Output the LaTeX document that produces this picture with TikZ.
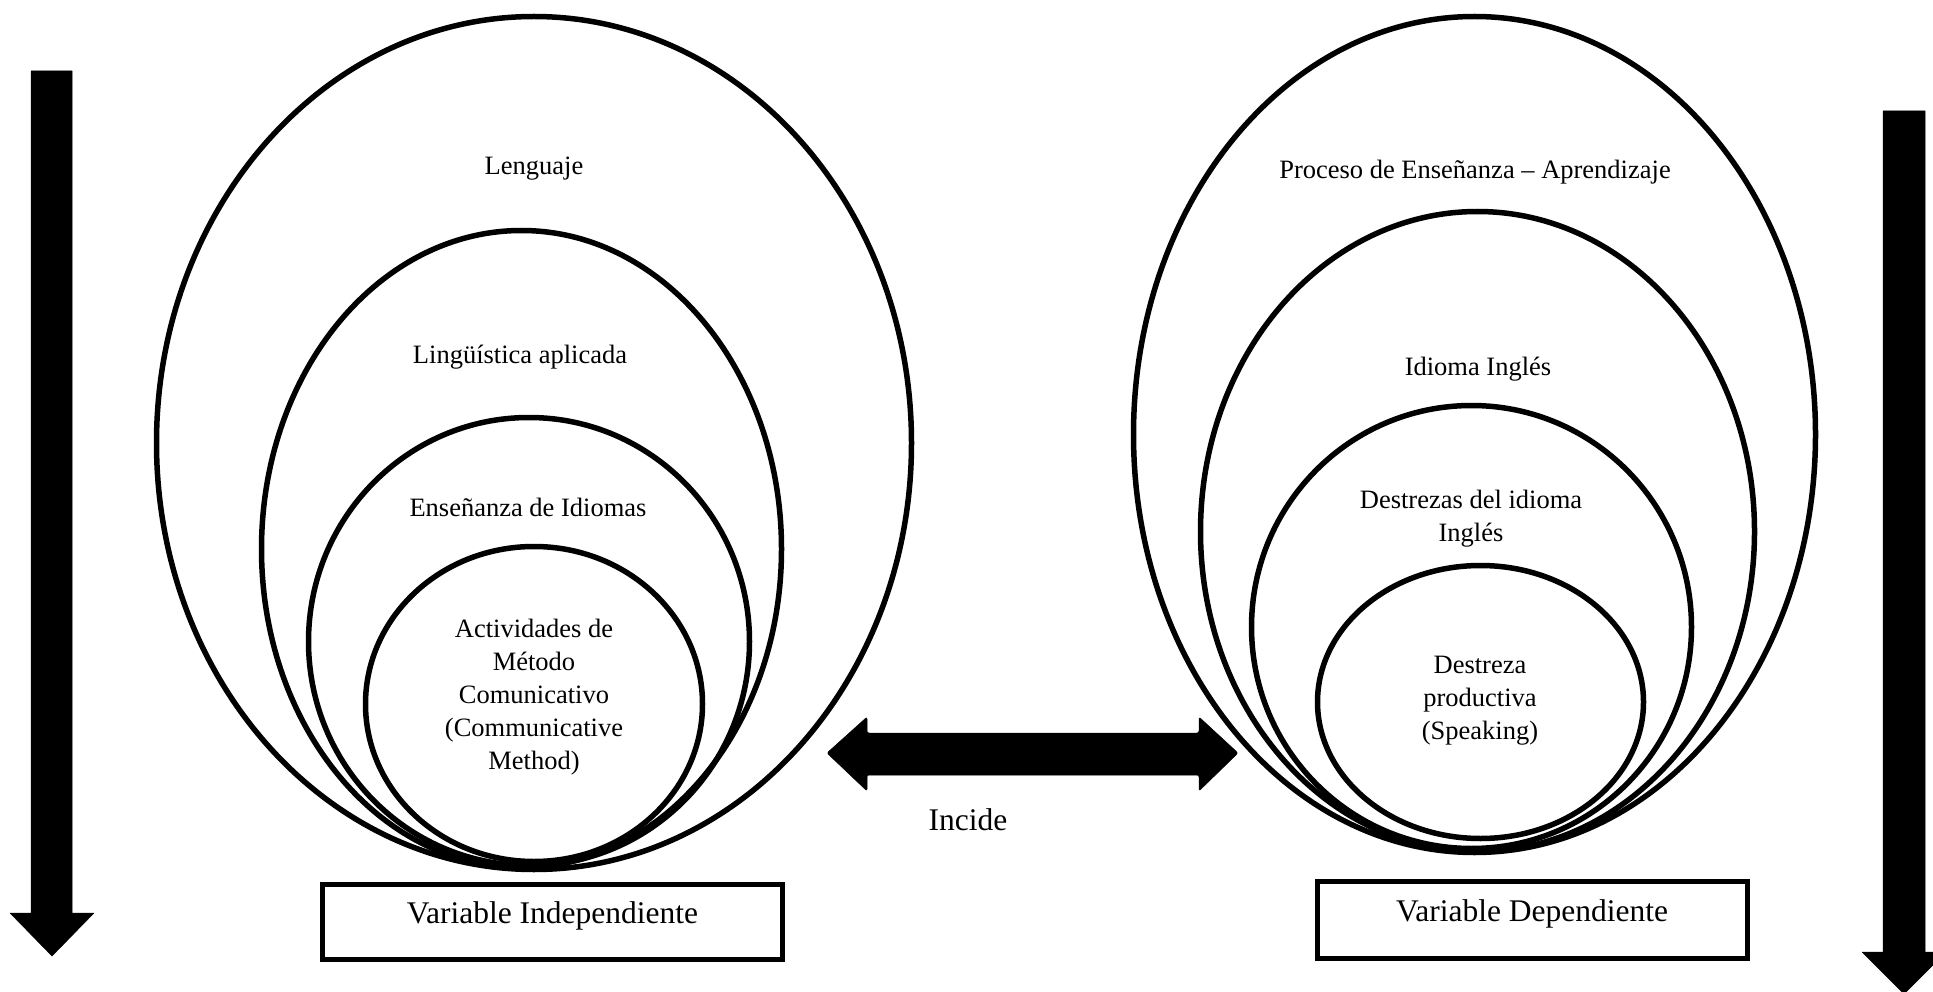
\documentclass[tikz,border=0pt]{standalone}
\usepackage{fontspec}
\setmainfont{Liberation Serif}
\usetikzlibrary{shapes.geometric}
\begin{document}
\begin{tikzpicture}[x=1pt,y=-1pt,
  ring/.style={draw, ellipse, line width=5.5pt, inner sep=0pt, outer sep=0pt},
  lbl/.style={font=\fontsize{26.5}{33}\selectfont, align=center, inner sep=0pt},
  vbox/.style={draw, rectangle, line width=5pt, inner sep=0pt},
  big/.style={font=\fontsize{31.5}{36}\selectfont, inner sep=0pt},
  blk/.style={fill=black, draw=black, line width=0.5pt, line join=round}]
\useasboundingbox (0,0) rectangle (1933,992);

% left group
\node[ring, minimum width=755, minimum height=853] (L1) at (534,443) {};
\node[ring, minimum width=520, minimum height=637] (L2) at (521.5,549) {};
\node[ring, minimum width=441, minimum height=448] (L3) at (529,641.5) {};
\node[ring, minimum width=337, minimum height=315] (L4) at (534,704) {};
\node[lbl, anchor=base] (tL1) at (534,175) {Lenguaje};
\node[lbl, anchor=base] (tL2) at (520,363) {Lingüística aplicada};
\node[lbl, anchor=base] (tL3) at (528,516) {Enseñanza de Idiomas};
\node[lbl] (tL4) at (534,697) {Actividades de\\Método\\Comunicativo\\(Communicative\\Method)};

% right group
\node[ring, minimum width=682, minimum height=836] (R1) at (1474.5,434.5) {};
\node[ring, minimum width=554, minimum height=640] (R2) at (1477.5,531.5) {};
\node[ring, minimum width=440, minimum height=443] (R3) at (1471.5,627) {};
\node[ring, minimum width=326, minimum height=273] (R4) at (1480.5,702) {};
\node[lbl, anchor=base] (tR1) at (1475,179) {Proceso de Enseñanza – Aprendizaje};
\node[lbl, anchor=base] (tR2) at (1478,375) {Idioma Inglés};
\node[lbl] (tR3) at (1471,518.5) {Destrezas del idioma\\Inglés};
\node[lbl] (tR4) at (1480,700.5) {Destreza\\productiva\\(Speaking)};

% variable boxes
\node[vbox, minimum width=460, minimum height=75] (VI) at (552.5,922) {};
\node[big, anchor=base] (tVI) at (552.5,923) {Variable Independiente};
\node[vbox, minimum width=430, minimum height=77] (VD) at (1532.5,920) {};
\node[big, anchor=base] (tVD) at (1532,921) {Variable Dependiente};

% double arrow
\fill[blk, rounded corners=2pt] (827,753) -- (867,717) -- (867,733) -- (1199,733) -- (1199,717)
  -- (1238,753) -- (1199,791) -- (1199,775) -- (867,775) -- (867,791) -- cycle;
\node[big, anchor=base] (inc) at (968,830) {Incide};

% vertical arrows
\fill[blk] (31,71) -- (72,71) -- (72,913) -- (94,913) -- (52,956) -- (10,913) -- (31,913) -- cycle;
\fill[blk] (1883,111) -- (1925,111) -- (1925,952) -- (1946,952) -- (1904,994) -- (1862,952) -- (1883,952) -- cycle;
\end{tikzpicture}
\end{document}
